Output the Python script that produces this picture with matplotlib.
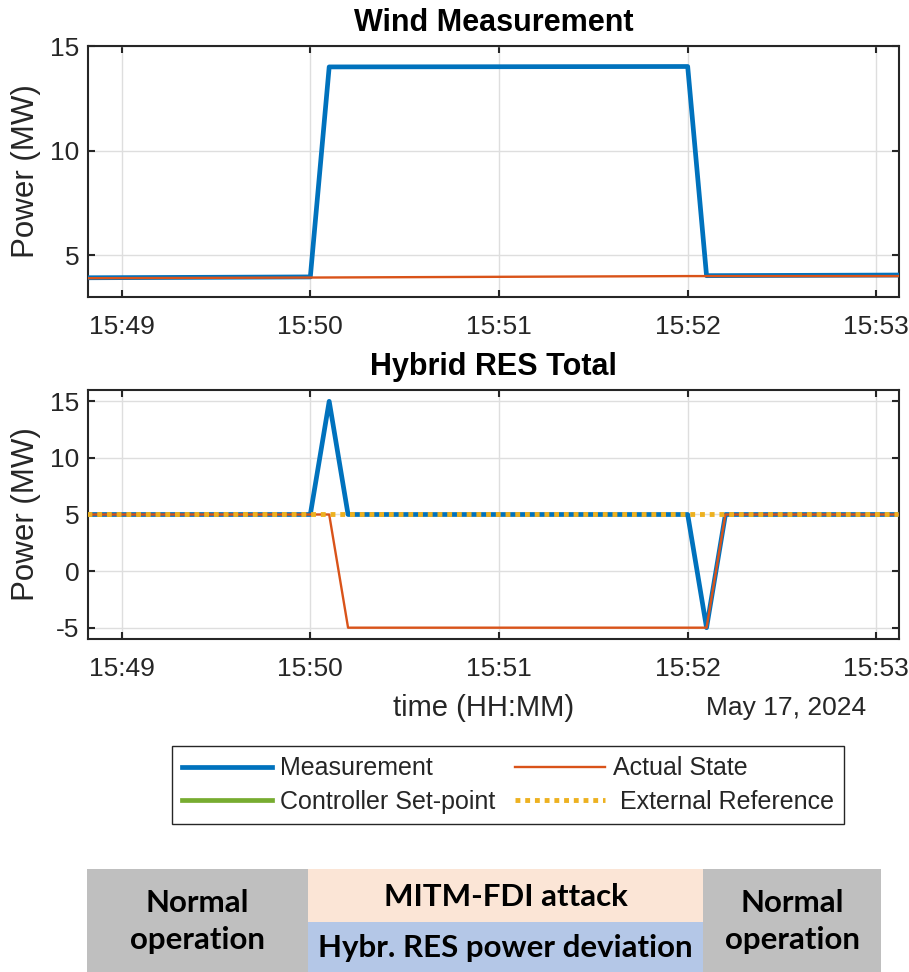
import matplotlib
matplotlib.use("Agg")
import matplotlib.pyplot as plt
import matplotlib.dates as mdates
from matplotlib.lines import Line2D
from matplotlib.patches import Rectangle
import pandas as pd

plt.rcParams['font.family'] = ['Liberation Sans', 'DejaVu Sans']
plt.rcParams['axes.unicode_minus'] = False

DAY = '2024-05-17 '

# ---- data ----
t_wind_meas = ['15:48:49', '15:50:00', '15:50:06', '15:52:00', '15:52:06', '15:53:07']
wind_meas = [3.92, 3.96, 14.0, 14.02, 4.02, 4.05]
t_wind_actual = ['15:48:49', '15:50:00', '15:52:00', '15:53:07']
wind_actual = [3.90, 3.93, 4.00, 4.00]

t_hyb_meas = ['15:48:49', '15:50:00', '15:50:06', '15:50:12', '15:52:00', '15:52:06', '15:52:12', '15:53:07']
hyb_meas = [5, 5, 15, 5, 5, -5, 5, 5]
t_hyb_actual = ['15:48:49', '15:50:06', '15:50:12', '15:52:06', '15:52:12', '15:53:07']
hyb_actual = [5, 5, -5, -5, 5, 5]
t_ext_ref = ['15:48:49', '15:53:07']
ext_ref = [5, 5]

x_limits = ['15:48:49.3', '15:53:07.2']
wind_ylim = [3, 15]
wind_yticks = [5, 10, 15]
hyb_ylim = [-6, 16]
hyb_yticks = [-5, 0, 5, 10, 15]

legend_labels = ['Measurement', 'Controller Set-point', 'Actual State', ' External Reference']
phase_labels = ['Normal\noperation', 'MITM-FDI attack', 'Hybr. RES power deviation', 'Normal\noperation']


def T(lst):
    return pd.to_datetime([DAY + s for s in lst])


C_BLUE = '#0072BD'
C_ORANGE = '#D95319'
C_YELLOW = '#EDB120'
C_GREEN = '#77AC30'
C_AX = '#262626'

W, H = 909, 972
fig = plt.figure(figsize=(W / 100, H / 100), dpi=100)


def fbox(x0, y0, x1, y1):
    return [x0 / W, 1 - y1 / H, (x1 - x0) / W, (y1 - y0) / H]


ax1 = fig.add_axes(fbox(88, 46, 899, 297))
ax2 = fig.add_axes(fbox(88, 390, 899, 639))

TICK_FS = 19
LAB_FS = 22.5
XLAB_FS = 21
TITLE_FS = 22

DOT = (0, (1.0, 1.0))

for ax in (ax1, ax2):
    ax.set_xlim(T(x_limits))
    ax.xaxis.set_major_locator(mdates.MinuteLocator())
    ax.xaxis.set_major_formatter(mdates.DateFormatter('%H:%M'))
    ax.grid(True, color='#DEDEDE', linewidth=1.0)
    ax.set_axisbelow(True)
    for sp in ax.spines.values():
        sp.set_color(C_AX)
        sp.set_linewidth(1.5)
    ax.tick_params(direction='in', length=5, width=1.5, color=C_AX,
                   top=True, right=True, labelsize=TICK_FS, labelcolor=C_AX)
    ax.tick_params(axis='x', pad=13)
    ax.tick_params(axis='y', pad=6)

# Top: wind measurement
ax1.plot(T(t_wind_meas), wind_meas, color=C_BLUE, linewidth=3.4, zorder=3)
ax1.plot(T(t_wind_actual), wind_actual, color=C_ORANGE, linewidth=1.7, zorder=4)
ax1.set_ylim(wind_ylim)
ax1.set_yticks(wind_yticks)
ax1.set_title('Wind Measurement', fontsize=TITLE_FS, fontweight='bold', pad=11)
ax1.set_ylabel('Power (MW)', fontsize=LAB_FS, color=C_AX, va='center')
ax1.yaxis.set_label_coords(-0.077, 0.5)

# Bottom: hybrid total
ax2.plot(T(t_hyb_meas), hyb_meas, color=C_BLUE, linewidth=3.4, zorder=3)
ax2.plot(T(t_hyb_actual), hyb_actual, color=C_ORANGE, linewidth=1.7, zorder=4)
ax2.plot(T(t_ext_ref), ext_ref, color=C_YELLOW, linewidth=3.5,
         linestyle=DOT, dash_capstyle='butt', zorder=5)
ax2.set_ylim(hyb_ylim)
ax2.set_yticks(hyb_yticks)
ax2.set_title('Hybrid RES Total', fontsize=TITLE_FS, fontweight='bold', pad=11)
ax2.set_ylabel('Power (MW)', fontsize=LAB_FS, color=C_AX, va='center')
ax2.yaxis.set_label_coords(-0.077, 0.5)
ax2.set_xlabel('time (HH:MM)', fontsize=XLAB_FS, color=C_AX, va='center')
ax2.xaxis.set_label_coords(0.488, -0.277)
ax2.text(0.861, -0.277, 'May 17, 2024', transform=ax2.transAxes, ha='center', va='center',
         fontsize=TICK_FS, color=C_AX)

# Legend
handles = [
    Line2D([], [], color=C_BLUE, linewidth=3.4),
    Line2D([], [], color=C_GREEN, linewidth=3.4),
    Line2D([], [], color=C_ORANGE, linewidth=1.7),
    Line2D([], [], color=C_YELLOW, linewidth=3.5, linestyle=DOT, dash_capstyle='butt'),
]
leg = fig.legend(handles, legend_labels, ncol=2, loc='center',
                 bbox_to_anchor=(508 / W, 1 - 785 / H), fontsize=18,
                 frameon=True, fancybox=False, edgecolor=C_AX, framealpha=1,
                 handlelength=3.6, handletextpad=0.32, columnspacing=0.76,
                 labelspacing=0.38, borderpad=0.4)
leg.get_frame().set_linewidth(1.0)
for txt in leg.get_texts():
    txt.set_color(C_AX)

# Phase boxes
boxes = [
    (87, 869, 308, 972, '#BFBFBF'),
    (308, 869, 703, 922, '#FBE5D6'),
    (308, 922, 703, 972, '#B4C7E7'),
    (703, 869, 881, 972, '#BFBFBF'),
]
for (x0, y0, x1, y1, c), lab in zip(boxes, phase_labels):
    fig.add_artist(Rectangle((x0 / W, 1 - y1 / H), (x1 - x0) / W, (y1 - y0) / H,
                             transform=fig.transFigure, facecolor=c, edgecolor='none'))
    fig.text((x0 + x1) / 2 / W, 1 - (y0 + y1 + 2) / 2 / H, lab, ha='center', va='center',
             fontsize=22.5, fontweight='bold', family=['Lato', 'DejaVu Sans'],
             color='black', linespacing=1.38)

fig.savefig('out.png', dpi=100)
